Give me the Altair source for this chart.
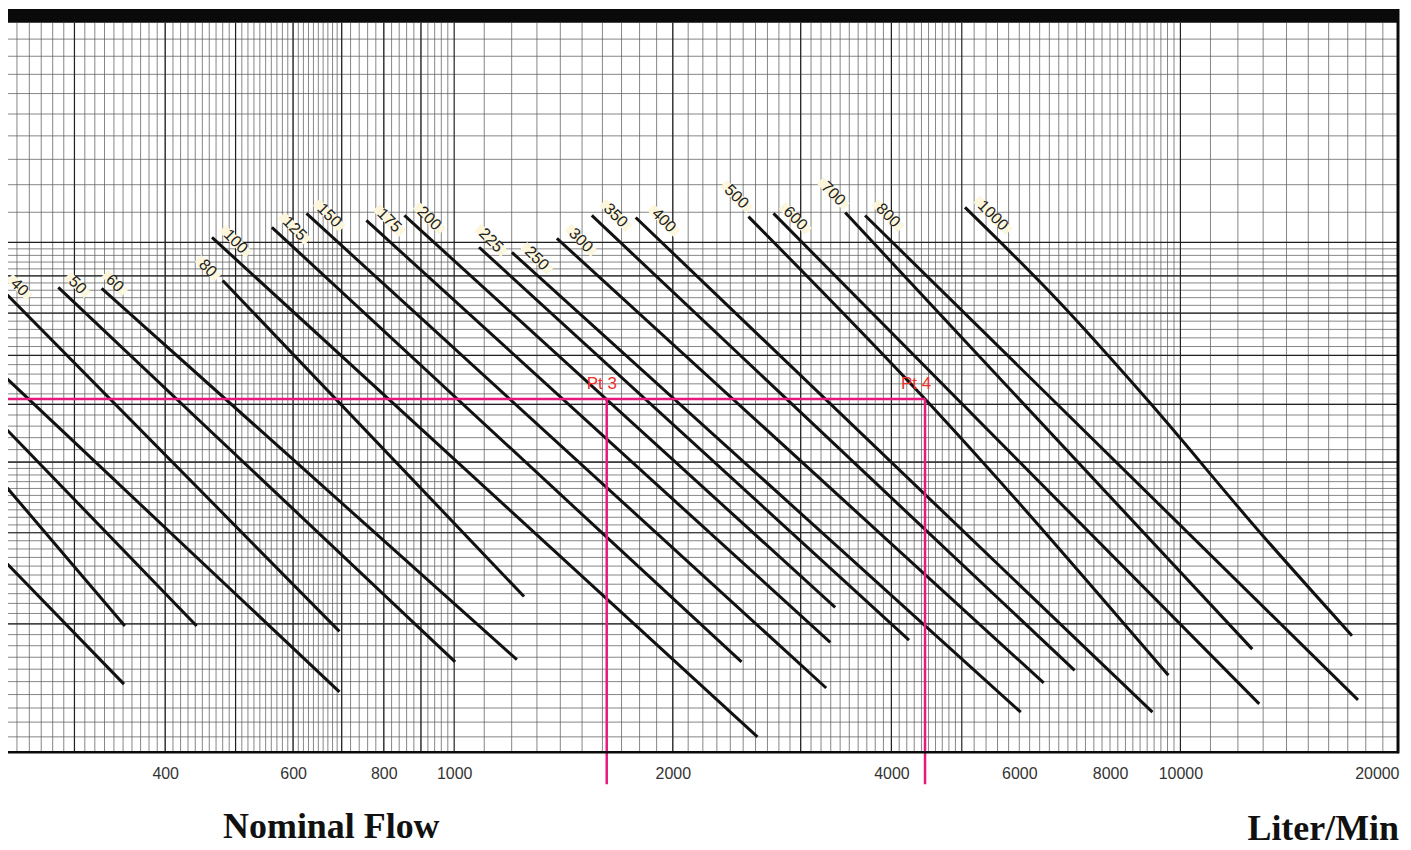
import altair as alt
import pandas as pd

# ---------------- data ----------------
# each curve: list of (flow [Liter/Min], chart value) points, upper-left -> lower-right
curve_names = ["s1", "s2", "s3", "s4", "40", "50", "60", "80", "100", "125", "150",
               "175", "200", "225", "250", "300", "350", "400", "500", "600", "700",
               "800", "1000"]
curve_points = {
    "s1": [(237, 3.71), (351, 2.48)],
    "s2": [(237, 4.73), (352, 2.98)],
    "s3": [(237, 5.66), (442, 2.98)],
    "s4": [(237, 6.64), (695, 2.42)],
    "40": [(239, 8.60), (695, 2.93)],
    "50": [(285, 8.68), (1003, 2.66)],
    "60": [(327, 8.65), (1220, 2.68)],
    "80": [(480, 8.87), (1248, 3.27)],
    "100": [(464, 10.16), (2616, 2.10)],
    "125": [(561, 10.49), (2487, 2.66)],
    "150": [(626, 10.96), (3253, 2.45)],
    "175": [(757, 10.72), (3295, 2.83)],
    "200": [(854, 10.89), (3347, 3.16)],
    "225": [(1082, 9.85), (4230, 2.85)],
    "250": [(1201, 9.69), (6028, 2.27)],
    "300": [(1385, 10.13), (6483, 2.49)],
    "350": [(1547, 10.89), (7151, 2.59)],
    "400": [(1778, 10.82), (9152, 2.27)],
    "500": [(2542, 10.85), (4450, 6.1), (9627, 2.55)],
    "600": [(2752, 10.96), (12840, 2.33)],
    "700": [(3455, 10.99), (12560, 2.77)],
    "800": [(3680, 10.89), (17560, 2.36)],
    "1000": [(5051, 11.17), (6776, 8.33), (9010, 6.08), (12880, 4.0), (17230, 2.89)],
}

# curve labels and where they sit (flow, value)
label_text = ["40", "50", "60", "80", "100", "125", "150", "175", "200", "225", "250",
              "300", "350", "400", "500", "600", "700", "800", "1000"]
label_flow = [252, 303, 341, 458, 500, 603, 673, 814, 924, 1124, 1300,
              1495, 1669, 1944, 2448, 2950, 3327, 3959, 5519]
label_val = [8.68, 8.74, 8.79, 9.22, 10.03, 10.45, 10.89, 10.72, 10.79, 10.07, 9.51,
             10.07, 10.89, 10.72, 11.56, 10.79, 11.67, 10.89, 10.89]

# reading guide (Pt 3 / Pt 4)
pt_names = ["Pt 3", "Pt 4"]
pt_flow = [1622, 4450]
pt_val = [6.1, 6.1]
guide_start_flow = 237

# axis tick labels
tick_values = [400, 600, 800, 1000, 2000, 4000, 6000, 8000, 10000, 20000]

# log-paper grid
v_minor = (list(range(250, 700, 10)) + list(range(700, 1000, 20))
           + list(range(1100, 5000, 100))
           + list(range(5200, 10000, 200)) + list(range(11000, 20000, 1000)))
v_major = [300, 400, 500, 600, 700, 800, 900, 1000, 2000, 3000, 4000, 5000, 10000]
h_minor = ([round(2 + 0.1 * i, 1) for i in range(31)]
           + [round(5 + 0.2 * i, 1) for i in range(26)]
           + list(range(11, 20)))
h_major = [3, 4, 5, 6, 7, 8, 9, 10]

# ---------------- build tables ----------------
rows = []
for name in curve_names:
    for i, (f, v) in enumerate(curve_points[name]):
        rows.append({"series": name, "flow": f, "val": v, "ord": i})
curves_df = pd.DataFrame(rows)
labels_df = pd.DataFrame({"label": label_text, "flow": label_flow, "val": label_val})
pts_df = pd.DataFrame({"name": pt_names, "flow": pt_flow, "val": pt_val})
hguide_df = pd.DataFrame({"flow": [guide_start_flow, pt_flow[1]], "val": [pt_val[1], pt_val[1]]})

W, H = 1394, 731
xscale = alt.Scale(type="log", domain=[243, 20000], nice=False)
yscale = alt.Scale(type="log", domain=[2, 20], nice=False)
xaxis = alt.Axis(values=tick_values, format="d", ticks=False, domain=False, grid=False,
                 labelFont="Liberation Sans", labelFontSize=16, labelColor="#333333",
                 labelPadding=13, labelFlush=True, title=None)


def X(field):
    return alt.X(field, type="quantitative", scale=xscale, axis=xaxis)


def Y(field):
    return alt.Y(field, type="quantitative", scale=yscale, axis=None)


one = pd.DataFrame({"k": [0]})

vgrid_minor = alt.Chart(pd.DataFrame({"g": v_minor})).mark_rule(
    color="#5e5e5e", strokeWidth=0.75).encode(x=X("g"))
vgrid_major = alt.Chart(pd.DataFrame({"g": v_major})).mark_rule(
    color="#222222", strokeWidth=1.2).encode(x=X("g"))
hgrid_minor = alt.Chart(pd.DataFrame({"g": h_minor})).mark_rule(
    color="#5e5e5e", strokeWidth=0.75).encode(y=Y("g"))
hgrid_major = alt.Chart(pd.DataFrame({"g": h_major})).mark_rule(
    color="#222222", strokeWidth=1.2).encode(y=Y("g"))

lines = alt.Chart(curves_df).mark_line(color="#111111", strokeWidth=3, clip=True,
                                       interpolate="monotone").encode(
    x=X("flow"), y=Y("val"), detail="series:N", order="ord:Q")

label_bg = alt.Chart(labels_df).transform_calculate(
    shp="length(datum.label) == 2 ? 'M-1,-0.34H1V0.34H-1Z' : "
        "(length(datum.label) == 3 ? 'M-1,-0.26H1V0.26H-1Z' : 'M-1,-0.21H1V0.21H-1Z')",
    bs="pow(length(datum.label) * 9 + 10, 2)",
).mark_point(filled=True, angle=45, color="#fbf6dc", opacity=1).encode(
    x=X("flow"), y=Y("val"),
    shape=alt.Shape("shp:N", scale=None, legend=None),
    size=alt.Size("bs:Q", scale=None, legend=None))

label_txt = alt.Chart(labels_df).mark_text(
    angle=45, font="Liberation Sans", fontSize=16, color="#222222",
    align="center", baseline="middle").encode(x=X("flow"), y=Y("val"), text="label:N")

pink = "#e8197e"
hguide = alt.Chart(hguide_df).mark_line(color=pink, strokeWidth=2.5, clip=True).encode(
    x=X("flow"), y=Y("val"))
vguide = alt.Chart(pts_df).mark_rule(color=pink, strokeWidth=2.5).encode(
    x=X("flow"), y=Y("val"), y2=alt.value(H + 32))
pt3_txt = alt.Chart(pts_df.iloc[[0]]).mark_text(
    font="Liberation Sans", fontSize=17, color="#f0302a", dx=-5, dy=-15).encode(
    x=X("flow"), y=Y("val"), text="name:N")
pt4_txt = alt.Chart(pts_df.iloc[[1]]).mark_text(
    font="Liberation Sans", fontSize=17, color="#f0302a", dx=-9, dy=-15).encode(
    x=X("flow"), y=Y("val"), text="name:N")

top_bar = alt.Chart(one).mark_rect(color="#0a0a0a").encode(
    x=alt.value(-8), x2=alt.value(W), y=alt.value(-14), y2=alt.value(0))
right_border = alt.Chart(one).mark_rule(color="#0a0a0a", strokeWidth=3).encode(
    x=alt.value(W - 1), y=alt.value(-14), y2=alt.value(H + 1))
bottom_border = alt.Chart(one).mark_rule(color="#0a0a0a", strokeWidth=2.5).encode(
    x=alt.value(-8), x2=alt.value(W), y=alt.value(H))

title_left = alt.Chart(pd.DataFrame({"t": ["Nominal Flow"]})).mark_text(
    font="Liberation Serif", fontSize=36, fontWeight="bold", color="#111111",
    align="center", baseline="alphabetic").encode(
    x=alt.value(324), y=alt.value(817), text="t:N")
title_right = alt.Chart(pd.DataFrame({"t": ["Liter/Min"]})).mark_text(
    font="Liberation Serif", fontSize=36, fontWeight="bold", color="#111111",
    align="right", baseline="alphabetic").encode(
    x=alt.value(W), y=alt.value(819), text="t:N")

chart = alt.layer(
    vgrid_minor, hgrid_minor, vgrid_major, hgrid_major,
    lines, label_bg, label_txt,
    hguide, vguide, pt3_txt, pt4_txt,
    top_bar, right_border, bottom_border,
    title_left, title_right,
).properties(
    width=W, height=H,
    padding={"left": 0, "top": 14, "right": 4, "bottom": 97},
    autosize=alt.AutoSizeParams(type="none"),
    background="white",
).configure_view(stroke=None)

chart.save("out.html", embed_options={"renderer": "svg", "actions": False})
